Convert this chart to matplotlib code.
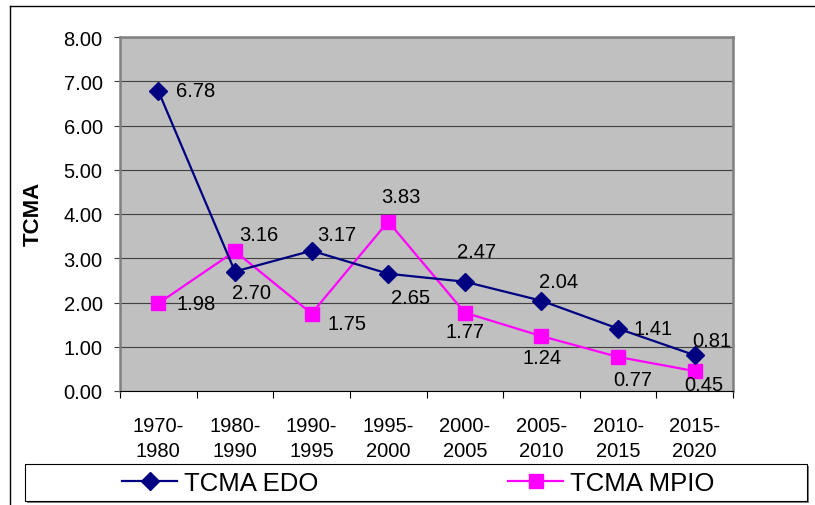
import matplotlib
matplotlib.use("Agg")
import matplotlib.pyplot as plt
from matplotlib.lines import Line2D
from matplotlib.patches import Rectangle

plt.rcParams['font.family'] = ['Liberation Sans', 'DejaVu Sans']

categories = ["1970-\n1980", "1980-\n1990", "1990-\n1995", "1995-\n2000",
              "2000-\n2005", "2005-\n2010", "2010-\n2015", "2015-\n2020"]
edo = [6.78, 2.70, 3.17, 2.65, 2.47, 2.04, 1.41, 0.81]
mpio = [1.98, 3.16, 1.75, 3.83, 1.77, 1.24, 0.77, 0.45]
yticks = [0, 1, 2, 3, 4, 5, 6, 7, 8]
series_names = ["TCMA EDO", "TCMA MPIO"]
ylabel = "TCMA"

# label offsets in pixels (dx right, dy down)
edo_off = [(37, 0), (17, 21), (25, -16), (22, 24), (12, -30), (17, -19), (35, 0), (17, -15)]
mpio_off = [(38, 0), (24, -17), (35, 10), (13, -25), (0, 19), (1, 21), (15, 23), (9, 13)]

W, H = 815, 506
fig = plt.figure(figsize=(W / 100, H / 100), dpi=100)
ax = fig.add_axes([120 / W, (H - 392) / H, 613 / W, 354 / H])
ax.set_facecolor('#C0C0C0')

x = list(range(len(categories)))
ax.plot(x, edo, color='#000080', lw=1.6, marker='D', ms=9, mfc='#000080', mec='#000080',
        zorder=4, label=series_names[0])
ax.plot(x, mpio, color='#FF00FF', lw=1.6, marker='s', ms=10, mfc='#FF00FF', mec='#FF00FF',
        zorder=3, label=series_names[1])

fs = 14.5
for xi, v, (dx, dy) in zip(x, edo, edo_off):
    ax.annotate(f"{v:.2f}", (xi, v), xytext=(dx, -dy), textcoords='offset pixels',
                ha='center', va='center', fontsize=fs, color='black', zorder=6)
for xi, v, (dx, dy) in zip(x, mpio, mpio_off):
    ax.annotate(f"{v:.2f}", (xi, v), xytext=(dx, -dy), textcoords='offset pixels',
                ha='center', va='center', fontsize=fs, color='black', zorder=6)

ax.set_xlim(-0.5, len(categories) - 0.5)
ax.set_ylim(0, 8)
ax.set_yticks(yticks)
ax.set_yticklabels([f"{t:.2f}" for t in yticks], fontsize=fs)
ax.yaxis.grid(True, color='#404040', lw=0.8)
ax.set_axisbelow(True)

ax.set_xticks([i - 0.5 for i in range(len(categories) + 1)])
ax.set_xticklabels([])
ax.set_xticks(x, minor=True)
ax.set_xticklabels(categories, minor=True, fontsize=fs, linespacing=1.4)
ax.tick_params(axis='x', which='minor', length=0, pad=18)
ax.tick_params(axis='x', which='major', length=5, width=0.8, color='black')
ax.tick_params(axis='y', length=4.5, width=0.8, pad=8, color='#404040')

ax.set_ylabel(ylabel, fontsize=16, fontweight='bold')
ax.yaxis.set_label_coords((44 - 120) / 613, (392 - 214) / 354)

for s in ['left', 'top', 'right']:
    ax.spines[s].set_color('#808080')
    ax.spines[s].set_linewidth(1.8)
ax.spines['bottom'].set_color('black')
ax.spines['bottom'].set_linewidth(0.8)

# outer frame
fig.add_artist(Line2D([9.5 / W, 9.5 / W], [0, (H - 7) / H], transform=fig.transFigure,
                      color='black', lw=1))
fig.add_artist(Line2D([9.5 / W, 1], [(H - 7) / H, (H - 7) / H], transform=fig.transFigure,
                      color='black', lw=1))

# legend frame with shadow
fig.add_artist(Rectangle((27 / W, (H - 504) / H), 782 / W, 37 / H, transform=fig.transFigure,
                         facecolor='#808080', edgecolor='none', zorder=1))
fig.add_artist(Rectangle((25 / W, (H - 502) / H), 782 / W, 37 / H, transform=fig.transFigure,
                         facecolor='white', edgecolor='black', lw=0.8, zorder=2))

handles, labels = ax.get_legend_handles_labels()
lfs = 18.5
lx = [122, 508]
for h, lab, px in zip(handles, labels, lx):
    lg = fig.legend([h], [lab], loc='center left', bbox_to_anchor=(px / W, (H - 484) / H),
                    frameon=False, fontsize=lfs, borderpad=0, borderaxespad=0,
                    handlelength=2.15, handletextpad=0.25, markerscale=1.0)
    lg.set_zorder(3)

fig.savefig('out.png', dpi=100)
